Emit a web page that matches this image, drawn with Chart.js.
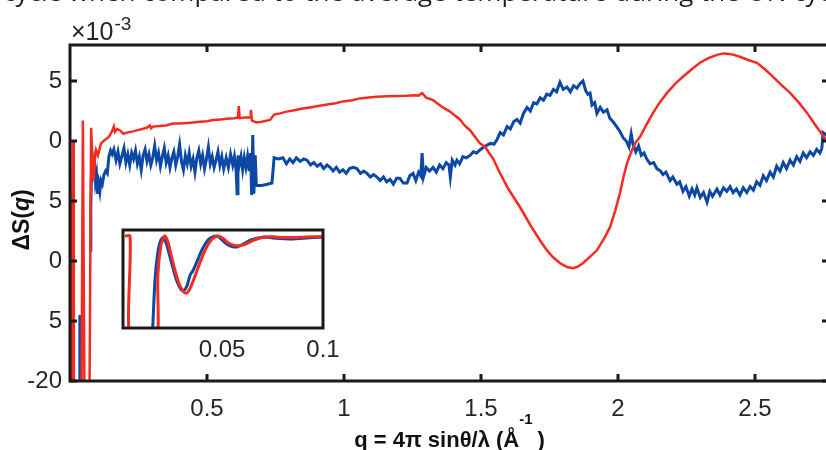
<!DOCTYPE html>
<html>
<head>
<meta charset="utf-8">
<script src="https://cdn.jsdelivr.net/npm/chart.js@4.4.0/dist/chart.umd.min.js"></script>
<style>
  html, body { margin: 0; padding: 0; background: #fff; width: 826px; height: 450px; overflow: hidden; }
  #wrap { position: relative; width: 826px; height: 450px; overflow: hidden; }
  #main { position: absolute; left: 0; top: 0; }
  #inset { position: absolute; left: 100px; top: 220px; }
</style>
</head>
<body>
<div id="wrap">
  <canvas id="main" width="834" height="450"></canvas>
  <canvas id="inset" width="260" height="150"></canvas>
</div>
<script>
// tick positions
const xTicks = [0.5, 1, 1.5, 2, 2.5];
const yTicks = [-20, -15, -10, -5, 0, 5];
const insetTicks = [0.05, 0.1];

// red curve (x10^-3)
const redQ = [0.000, 0.003, 0.005, 0.009, 0.011, 0.014, 0.042, 0.047, 0.053, 0.071, 0.077, 0.086, 0.092, 0.095, 0.102,
  0.113, 0.128, 0.140, 0.146, 0.155, 0.160, 0.164, 0.172, 0.182, 0.195, 0.208, 0.230, 0.255, 0.280, 0.292, 0.296,
  0.303, 0.328, 0.350, 0.376, 0.400, 0.427, 0.450, 0.474, 0.500, 0.522, 0.550, 0.573, 0.600, 0.613, 0.616, 0.619,
  0.640, 0.657, 0.660, 0.664, 0.680, 0.700, 0.730, 0.745, 0.766, 0.790, 0.814, 0.850, 0.876, 0.900, 0.938, 0.970,
  0.996, 1.030, 1.058, 1.090, 1.120, 1.160, 1.193, 1.230, 1.260, 1.272, 1.285, 1.300, 1.325, 1.361, 1.387, 1.400,
  1.423, 1.440, 1.460, 1.480, 1.496, 1.515, 1.545, 1.569, 1.600, 1.642, 1.680, 1.715, 1.740, 1.763, 1.790, 1.814,
  1.836, 1.855, 1.872, 1.900, 1.923, 1.950, 1.971, 1.990, 2.007, 2.020, 2.033, 2.051, 2.065, 2.080, 2.105, 2.128,
  2.155, 2.179, 2.210, 2.237, 2.270, 2.299, 2.330, 2.361, 2.385, 2.398, 2.420, 2.445, 2.475, 2.507, 2.535, 2.566,
  2.595, 2.628, 2.660, 2.690, 2.715, 2.737, 2.759, 2.775];
const redS = [0.1, 0.1, -22, -22, 0.0, -22, -22, 1.7, -22, -22, 1.1, -3.3, -1.2, -0.75, -1.2,
  -0.2, 0.1, 0.3, 0.5, 0.9, 1.2, 0.75, 1.0, 0.9, 0.6, 0.7, 0.8, 0.95, 1.1, 1.3, 1.05,
  1.2, 1.25, 1.3, 1.45, 1.45, 1.5, 1.55, 1.6, 1.65, 1.75, 1.8, 1.85, 1.9, 1.95, 2.9, 1.9,
  1.95, 1.95, 2.6, 1.7, 1.55, 1.6, 1.75, 2.2, 2.3, 2.45, 2.55, 2.7, 2.8, 2.9, 3.05, 3.15,
  3.3, 3.4, 3.55, 3.62, 3.68, 3.72, 3.76, 3.78, 3.82, 3.78, 3.98, 3.62, 3.4, 2.8, 2.45, 2.2,
  1.8, 1.3, 0.9, 0.3, -0.2, -0.5, -1.5, -2.67, -4.0, -5.5, -7.0, -8.27, -9.1, -9.69, -10.2, -10.5,
  -10.6, -10.45, -10.19, -9.6, -9.11, -8.1, -7.18, -5.8, -4.34, -3.0, -1.84, -0.75, -0.1, 0.33, 1.4, 2.34,
  3.3, 4.01, 4.8, 5.35, 6.0, 6.52, 6.9, 7.18, 7.3, 7.27, 7.2, 7.02, 6.75, 6.52, 6.0, 5.35,
  4.7, 4.01, 3.2, 2.34, 1.5, 0.8, 0.08, -0.4];

// blue curve (x10^-3), null = gap
const blueQ = [0.034, 0.036, 0.038, 0.050, 0.073, 0.076, 0.079, 0.082, 0.085, 0.089, 0.093, 0.097, 0.101, 0.105,
  0.109, 0.113, 0.118, 0.124, 0.130, 0.136, 0.142, 0.148, 0.154,
  0.160, 0.168, 0.175, 0.182, 0.190, 0.197, 0.204, 0.211, 0.218, 0.225, 0.232, 0.239, 0.246, 0.253, 0.260, 0.267,
  0.274, 0.281, 0.288, 0.295, 0.302, 0.309, 0.316, 0.323, 0.330, 0.337, 0.344, 0.351, 0.358, 0.365, 0.372, 0.379,
  0.386, 0.393, 0.400, 0.407, 0.414, 0.421, 0.428, 0.435, 0.442, 0.449, 0.456, 0.463, 0.470, 0.477, 0.484, 0.491,
  0.498, 0.505, 0.512, 0.519, 0.526, 0.533, 0.540, 0.547, 0.554, 0.561, 0.570, 0.578, 0.586, 0.594, 0.600, 0.606,
  0.610, 0.613, 0.618, 0.624, 0.630, 0.636, 0.642, 0.648, 0.654, 0.659, 0.663, 0.667, 0.671, 0.676, 0.680, 0.700,
  0.720, 0.737, 0.745, 0.760, 0.777, 0.790, 0.802, 0.814, 0.826, 0.840, 0.853, 0.865, 0.878, 0.890, 0.902, 0.914,
  0.926, 0.938, 0.949, 0.960, 0.972, 0.984, 0.996, 1.008, 1.020, 1.034, 1.047, 1.060, 1.072, 1.084, 1.096, 1.108,
  1.120, 1.132, 1.144, 1.156, 1.168, 1.180, 1.192, 1.204, 1.216, 1.230, 1.240, 1.252, 1.262, 1.272, 1.280, 1.285,
  1.290, 1.300, 1.312, 1.325, 1.337, 1.349, 1.361, 1.373, 1.383, 1.388, 1.395, 1.405, 1.412, 1.422, 1.434, 1.446,
  1.460, 1.472, 1.484, 1.496, 1.510, 1.522, 1.535, 1.548, 1.558, 1.570, 1.582, 1.595, 1.607, 1.619, 1.631, 1.643,
  1.655, 1.668, 1.680, 1.692, 1.704, 1.716, 1.728, 1.740, 1.752, 1.764, 1.776, 1.788, 1.800, 1.814, 1.826, 1.838,
  1.850, 1.862, 1.872, 1.882, 1.890, 1.898, 1.905, 1.915, 1.923, 1.935, 1.947, 1.960, 1.970, 1.982, 1.995, 2.007,
  2.018, 2.030, 2.040, 2.048, 2.055, 2.065, 2.075, 2.085, 2.095, 2.105, 2.117, 2.130, 2.142, 2.155, 2.164, 2.175,
  2.190, 2.200, 2.215, 2.225, 2.237, 2.248, 2.260, 2.270, 2.280, 2.288, 2.300, 2.312, 2.325, 2.335, 2.345, 2.361,
  2.372, 2.385, 2.397, 2.409, 2.420, 2.432, 2.445, 2.457, 2.470, 2.482, 2.494, 2.506, 2.518, 2.530, 2.542, 2.555,
  2.567, 2.579, 2.591, 2.603, 2.615, 2.628, 2.640, 2.652, 2.664, 2.676, 2.688, 2.701, 2.713, 2.725, 2.737, 2.744,
  2.748, 2.760, 2.775];
const blueS = [-22, -14.5, -22, null, -9.1, -5.5, -2.0, -1.6, -2.4, -1.8, -3.4, -2.8, -4.4, -3.6,
  -4.2, -3.3, -3.6, -2.8, -2.5, -2.7, -1.3, -0.8, -1.1,
  -0.7, -1.6, -0.9, -1.9, -1.2, -0.6, -1.8, -1.1, -2.0, -1.0, -1.5, -0.8, -1.9, -1.3, -2.4, -1.2,
  -0.7, -1.7, -1.1, -2.0, -1.4, -0.4, -1.6, -1.0, -2.1, -1.3, -0.6, -1.8, -1.2, -2.2, -1.4, -0.9,
  -2.0, -1.3, -0.3, -1.7, -2.4, -1.2, -1.9, -1.0, -2.1, -1.5, -2.6, -1.4, -0.8, -1.9, -1.2, -2.3,
  -1.5, -0.5, -1.9, -1.3, -2.2, -1.6, -0.9, -2.0, -1.3, -2.3, -1.4, -2.2, -1.1, -2.0, -1.3, -2.4,
  -4.4, -1.2, -2.0, -1.3, -2.4, -1.4, -2.2, -1.3, -2.5, -1.0, -4.5, 0.5, -4.4, -1.2, -3.7, -3.7,
  -3.6, -3.5, -1.4, -1.5, -1.4, -1.9, -1.5, -1.8, -1.4, -1.7, -1.5, -1.6, -2.0, -1.8, -2.1, -1.9,
  -2.3, -2.0, -2.2, -2.5, -2.2, -2.6, -2.4, -2.7, -2.3, -2.2, -2.3, -2.7, -2.5, -2.7, -3.0, -2.8,
  -3.0, -3.3, -3.0, -3.4, -3.2, -3.6, -3.1, -3.1, -3.5, -3.5, -2.9, -2.7, -3.3, -2.6, -2.9, -1.0,
  -3.0, -2.2, -2.5, -2.2, -2.6, -2.0, -2.3, -1.8, -2.0, -3.0, -1.6, -2.0, -1.6, -1.9, -1.3, -1.4,
  -1.2, -0.9, -1.0, -0.75, -0.5, -0.35, -0.2, -0.25, 0.1, 0.7, 0.5, 1.2, 1.0, 1.6, 1.8, 1.5,
  2.3, 2.8, 2.5, 3.2, 3.1, 3.6, 3.4, 3.9, 3.8, 4.3, 4.1, 4.9, 4.3, 4.5, 4.1, 4.6,
  4.4, 4.8, 5.0, 4.2, 3.9, 4.0, 3.0, 3.2, 2.3, 2.8, 2.4, 2.6, 1.9, 1.6, 1.2, 0.8,
  0.3, 0.0, -0.5, 0.6, -0.3, -0.9, -0.4, -1.2, -1.0, -1.5, -1.9, -1.8, -2.3, -2.5, -2.8, -2.6,
  -3.3, -3.0, -3.6, -3.4, -4.2, -3.8, -4.6, -4.0, -4.5, -3.9, -4.7, -4.3, -5.1, -4.2, -4.6, -4.0,
  -4.5, -3.9, -4.2, -3.8, -4.3, -4.0, -4.5, -3.9, -4.3, -3.8, -4.1, -3.4, -3.7, -2.9, -3.3, -2.6,
  -3.0, -2.1, -2.5, -1.8, -2.3, -1.6, -2.0, -1.3, -1.7, -1.0, -1.4, -0.9, -1.2, -0.7, -1.0, -0.6,
  0.7, 0.5, 0.8];

// inset curves
const insetRedQ = [0.002, 0.0045, 0.005, 0.0168, 0.0183, 0.0198, 0.0213, 0.0218, 0.0233, 0.0248, 0.0267, 0.0287,
  0.0307, 0.0322, 0.0337, 0.0357, 0.0376, 0.0396, 0.0416, 0.0436, 0.0455, 0.0480, 0.0505, 0.0530, 0.0555, 0.0584,
  0.0614, 0.0653, 0.0703, 0.0752, 0.0802, 0.0851, 0.0901, 0.0950, 0.1000];
const insetRedS = [0, 0, -15, -15, -5, -1.2, -0.1, 0, -0.8, -2.5, -4.5, -6.3,
  -7.3, -7.6, -7.2, -6.0, -4.6, -3.2, -1.9, -0.9, -0.3, 0.0, -0.3, -0.9, -1.2, -1.3,
  -1.1, -0.6, -0.15, -0.1, -0.2, -0.2, -0.15, -0.1, -0.1];
const insetBlueQ = [0.0153, 0.0168, 0.0183, 0.0198, 0.0208, 0.0223, 0.0238, 0.0257, 0.0277, 0.0297, 0.0312, 0.0327,
  0.0342, 0.0356, 0.0376, 0.0396, 0.0416, 0.0436, 0.0475, 0.0500, 0.0525, 0.0550, 0.0574, 0.0604, 0.0643, 0.0703,
  0.0752, 0.0802, 0.0851, 0.0901, 0.0950, 0.1000];
const insetBlueS = [-15, -6, -2, -0.5, -0.25, -0.9, -2.3, -4.2, -6.0, -7.1, -7.2, -6.6,
  -5.2, -4.6, -3.4, -2.1, -1.1, -0.4, 0.0, -0.5, -1.1, -1.4, -1.45, -1.1, -0.5, -0.15,
  -0.25, -0.35, -0.4, -0.3, -0.2, -0.15];

const RED = '#f42c20';
const BLUE = '#0c48a5';
const INK = '#262626';
const TICK_FONT = { family: 'Liberation Sans', size: 24 };

function toPoints(qs, vals) {
  return qs.map((q, i) => ({ x: q, y: vals[i] }));
}

// frame, inward ticks, titles
const decor = {
  id: 'decor',
  afterDraw(chart) {
    const { ctx, chartArea: a, scales: { x, y } } = chart;
    ctx.save();
    ctx.strokeStyle = '#1a1a1a';
    ctx.lineWidth = 3;
    ctx.strokeRect(a.left, a.top, a.right - a.left, a.bottom - a.top);
    ctx.beginPath();
    xTicks.forEach(v => {
      const px = x.getPixelForValue(v);
      ctx.moveTo(px, a.bottom); ctx.lineTo(px, a.bottom - 7);
      ctx.moveTo(px, a.top); ctx.lineTo(px, a.top + 7);
    });
    yTicks.forEach(v => {
      const py = y.getPixelForValue(v);
      ctx.moveTo(a.left, py); ctx.lineTo(a.left + 7, py);
      ctx.moveTo(a.right, py); ctx.lineTo(a.right - 7, py);
    });
    ctx.stroke();

    // white box behind the y title (hides the minus signs, as in the figure)
    ctx.fillStyle = '#fff';
    ctx.fillRect(0, 160, 48, 195);

    // y title
    ctx.fillStyle = '#111';
    ctx.translate(29, 220);
    ctx.rotate(-Math.PI / 2);
    ctx.textBaseline = 'alphabetic';
    const f1 = 'bold 23px "Liberation Sans"';
    const f2 = 'italic bold 23px "Liberation Sans"';
    ctx.font = f1; const w1 = ctx.measureText('ΔS(').width;
    ctx.font = f2; const w2 = ctx.measureText('q').width;
    ctx.font = f1; const w3 = ctx.measureText(')').width;
    let sx = -(w1 + w2 + w3) / 2;
    ctx.textAlign = 'left';
    ctx.font = f1; ctx.fillText('ΔS(', sx, 0); sx += w1;
    ctx.font = f2; ctx.fillText('q', sx, 0); sx += w2;
    ctx.font = f1; ctx.fillText(')', sx, 0);
    ctx.setTransform(1, 0, 0, 1, 0, 0);

    // exponent label
    ctx.fillStyle = INK;
    ctx.textAlign = 'left';
    ctx.font = '25px "Liberation Sans"';
    ctx.fillText('\u00d710', 71, 40);
    const we = ctx.measureText('\u00d710').width;
    ctx.font = '19px "Liberation Sans"';
    ctx.fillText('-3', 71 + we + 1, 30);

    // x title
    ctx.fillStyle = '#111';
    const fb = 'bold 22px "Liberation Sans"';
    const fs = 'bold 15px "Liberation Sans"';
    ctx.font = fb; const t1 = ctx.measureText('q = 4\u03c0 sin\u03b8/\u03bb (\u00c5').width;
    ctx.font = fs; const t2 = ctx.measureText('-1').width;
    ctx.font = fb; const t3 = ctx.measureText(')').width;
    let tx = (a.left + a.right) / 2 - (t1 + t2 + 5 + t3) / 2;
    ctx.font = fb; ctx.fillText('q = 4\u03c0 sin\u03b8/\u03bb (\u00c5', tx, 447); tx += t1;
    ctx.font = fs; ctx.fillText('-1', tx, 424); tx += t2 + 5;
    ctx.font = fb; ctx.fillText(')', tx, 447);

    // page text cut off at the top
    ctx.fillStyle = '#1e1e1e';
    ctx.font = '26px "Open Sans"';
    ctx.fillText('cycle when compared to the average temperature during the ON cycle', 3, 1);
    ctx.restore();
  }
};

new Chart(document.getElementById('main'), {
  type: 'line',
  data: {
    datasets: [
      { data: toPoints(redQ, redS), borderColor: RED, borderWidth: 2.5, pointRadius: 0, tension: 0 },
      { data: toPoints(blueQ, blueS), borderColor: BLUE, borderWidth: 3, pointRadius: 0, tension: 0, spanGaps: false }
    ]
  },
  options: {
    responsive: false,
    animation: false,
    devicePixelRatio: 1,
    layout: { padding: { top: 45, right: 5, left: 0, bottom: 0 } },
    plugins: { legend: { display: false }, tooltip: { enabled: false } },
    scales: {
      x: {
        type: 'linear', min: 0, max: 2.77,
        grid: { display: false, drawTicks: false },
        border: { display: false },
        afterBuildTicks: s => { s.ticks = xTicks.map(v => ({ value: v })); },
        afterFit: s => { s.height = 69; },
        ticks: { font: TICK_FONT, color: INK, padding: 14, maxRotation: 0, autoSkip: false, callback: v => String(v) }
      },
      y: {
        type: 'linear', min: -20, max: 8,
        grid: { display: false, drawTicks: false },
        border: { display: false },
        afterBuildTicks: s => { s.ticks = yTicks.map(v => ({ value: v })); },
        afterFit: s => { s.width = 70; },
        ticks: { font: TICK_FONT, color: INK, padding: 8, callback: v => String(v) }
      }
    }
  },
  plugins: [decor]
});

// inset: white axes, frame and two tick labels
const insetDecor = {
  id: 'insetDecor',
  beforeDatasetsDraw(chart) {
    const { ctx, chartArea: a } = chart;
    ctx.save();
    ctx.fillStyle = '#fff';
    ctx.fillRect(a.left, a.top, a.right - a.left, a.bottom - a.top);
    ctx.restore();
  },
  afterDraw(chart) {
    const { ctx, chartArea: a, scales: { x } } = chart;
    ctx.save();
    ctx.strokeStyle = '#1a1a1a';
    ctx.lineWidth = 3;
    ctx.strokeRect(a.left, a.top, a.right - a.left, a.bottom - a.top);
    ctx.fillStyle = INK;
    ctx.font = '24px "Liberation Sans"';
    ctx.textAlign = 'center';
    ctx.textBaseline = 'middle';
    insetTicks.forEach(v => ctx.fillText(String(v), x.getPixelForValue(v), 130));
    ctx.restore();
  }
};

new Chart(document.getElementById('inset'), {
  type: 'line',
  data: {
    datasets: [
      { data: toPoints(insetRedQ, insetRedS), borderColor: RED, borderWidth: 3, pointRadius: 0, tension: 0.3 },
      { data: toPoints(insetBlueQ, insetBlueS), borderColor: BLUE, borderWidth: 3, pointRadius: 0, tension: 0.3 }
    ]
  },
  options: {
    responsive: false,
    animation: false,
    devicePixelRatio: 1,
    layout: { padding: { left: 23, top: 10, right: 37, bottom: 42 } },
    plugins: { legend: { display: false }, tooltip: { enabled: false } },
    scales: {
      x: { type: 'linear', min: 0.001, max: 0.1, display: false },
      y: { type: 'linear', min: -12.2, max: 0.8, display: false }
    }
  },
  plugins: [insetDecor]
});
</script>
</body>
</html>
